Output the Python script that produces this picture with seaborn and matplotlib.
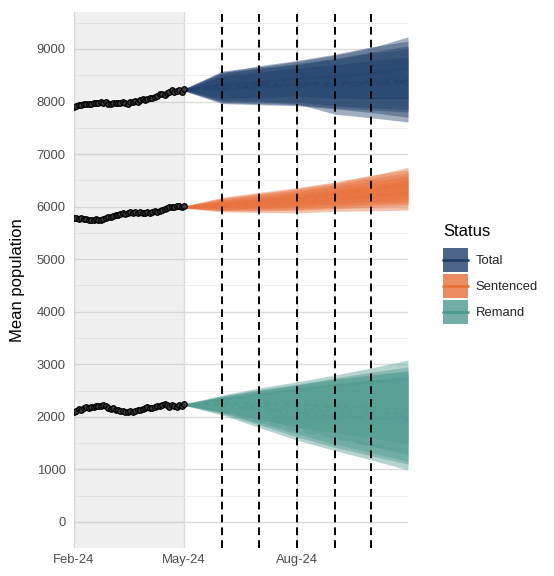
import numpy as np
import pandas as pd
import matplotlib
matplotlib.use("Agg")
import matplotlib.pyplot as plt
from matplotlib.patches import Patch, Rectangle
from matplotlib.lines import Line2D
from matplotlib.legend_handler import HandlerBase
import seaborn as sns

# ---------------- data ----------------
status_names = ["Total", "Sentenced", "Remand"]
status_colors = ["#1F3F6B", "#E8703A", "#4E9A8F"]
legend_title = "Status"

hist_start = "2024-02-01"
hist_step_days = 2

total_hist = [7890, 7910, 7930, 7925, 7945, 7950,
              7960, 7955, 7970, 7980, 7965, 7985,
              7975, 7990, 7960, 7945, 7970, 7980,
              7965, 7975, 7990, 7970, 7960, 7985,
              7995, 8010, 7990, 8020, 8040, 8030,
              8050, 8070, 8060, 8080, 8110, 8140,
              8150, 8130, 8170, 8190, 8210, 8180,
              8200, 8225, 8190, 8240]
sent_hist = [5780, 5790, 5770, 5785, 5760, 5770,
             5750, 5755, 5745, 5760, 5740, 5755,
             5770, 5790, 5800, 5810, 5830, 5840,
             5850, 5860, 5870, 5860, 5880, 5890,
             5875, 5890, 5880, 5900, 5885, 5870,
             5890, 5880, 5900, 5910, 5895, 5920,
             5930, 5950, 5980, 5990, 5985, 6000,
             6010, 6020, 6000, 6010]
remand_hist = [2100, 2120, 2150, 2140, 2170, 2180,
               2175, 2195, 2190, 2200, 2205, 2215,
               2225, 2200, 2170, 2150, 2160, 2140,
               2130, 2120, 2110, 2100, 2095, 2110,
               2100, 2115, 2130, 2140, 2150, 2170,
               2180, 2165, 2175, 2190, 2200, 2210,
               2230, 2250, 2220, 2190, 2235, 2200,
               2180, 2230, 2200, 2245]

proj_dates = ["2024-05-01", "2024-06-01", "2024-07-01", "2024-08-01",
              "2024-09-01", "2024-10-01", "2024-10-31"]

total_upper = [[8240, 8580, 8660, 8760, 8880, 9020, 9230],
               [8235, 8520, 8640, 8720, 8820, 8940, 9060],
               [8240, 8550, 8680, 8780, 8900, 9040, 9150],
               [8230, 8480, 8560, 8640, 8700, 8780, 8850],
               [8240, 8560, 8620, 8700, 8800, 8920, 9000]]
total_lower = [[8210, 8060, 8080, 8100, 8060, 8050, 8050],
               [8200, 7960, 7940, 7920, 7860, 7790, 7700],
               [8210, 8000, 7990, 7960, 7760, 7690, 7610],
               [8205, 7980, 7960, 7940, 7880, 7840, 7800],
               [8210, 8020, 8010, 7990, 7920, 7880, 7850]]
total_mid = [[8225, 8320, 8370, 8430, 8470, 8530, 8640],
             [8220, 8240, 8290, 8320, 8340, 8360, 8380],
             [8225, 8280, 8330, 8370, 8330, 8370, 8380],
             [8220, 8230, 8260, 8290, 8290, 8310, 8320],
             [8225, 8290, 8320, 8340, 8360, 8400, 8420]]

sent_upper = [[6010, 6160, 6250, 6340, 6450, 6580, 6750],
              [6005, 6120, 6200, 6280, 6380, 6480, 6580],
              [6010, 6180, 6270, 6360, 6470, 6600, 6700],
              [6000, 6100, 6170, 6240, 6320, 6420, 6500],
              [6010, 6150, 6230, 6310, 6420, 6540, 6640]]
sent_lower = [[5975, 5940, 5960, 5990, 6020, 6060, 6100],
              [5970, 5900, 5890, 5880, 5910, 5920, 5935],
              [5980, 5950, 5980, 6010, 6060, 6100, 6150],
              [5970, 5920, 5920, 5930, 5960, 5990, 6020],
              [5975, 5930, 5940, 5950, 5990, 6030, 6060]]
sent_mid = [[5990, 6050, 6100, 6160, 6230, 6320, 6420],
            [5985, 6010, 6040, 6080, 6140, 6200, 6260],
            [5995, 6060, 6120, 6180, 6260, 6350, 6420],
            [5985, 6010, 6040, 6080, 6140, 6200, 6260],
            [5990, 6040, 6080, 6130, 6200, 6280, 6350]]

remand_upper = [[2240, 2415, 2550, 2665, 2795, 2930, 3080],
                [2235, 2380, 2490, 2600, 2700, 2790, 2860],
                [2240, 2400, 2520, 2620, 2740, 2850, 2950],
                [2235, 2360, 2450, 2540, 2620, 2700, 2780],
                [2240, 2390, 2500, 2610, 2720, 2800, 2880]]
remand_lower = [[2220, 2100, 1950, 1800, 1700, 1600, 1500],
                [2220, 2035, 1800, 1560, 1360, 1180, 990],
                [2225, 2080, 1880, 1680, 1480, 1320, 1150],
                [2220, 2060, 1850, 1620, 1420, 1260, 1100],
                [2225, 2110, 1960, 1800, 1620, 1450, 1275]]
remand_mid = [[2235, 2330, 2420, 2520, 2600, 2660, 2720],
              [2230, 2100, 1920, 1750, 1600, 1460, 1340],
              [2232, 2240, 2200, 2150, 2110, 2080, 2050],
              [2230, 2210, 2150, 2080, 2020, 1980, 1940],
              [2233, 2260, 2260, 2240, 2200, 2170, 2150]]

sim_linestyles = ["-", (0, (5, 2)), (0, (1, 2)), (0, (6, 2, 1, 2)), (0, (2, 2))]

dashed_dates = ["2024-06-01", "2024-07-01", "2024-08-01", "2024-09-01", "2024-10-01"]
x_ticks = ["2024-02-01", "2024-05-01", "2024-08-01"]
x_tick_labels = ["Feb-24", "May-24", "Aug-24"]
x_limits = ["2024-02-01", "2024-10-31"]
y_ticks = [0, 1000, 2000, 3000, 4000, 5000, 6000, 7000, 8000, 9000]
y_limits = [-495, 9703]
shade_range = ["2024-02-01", "2024-05-01"]


class KeyHandler(HandlerBase):
    """Filled square key with a line through its middle (ggplot-like)."""
    def __init__(self, color):
        super().__init__()
        self.color = color

    def create_artists(self, legend, orig_handle, xdescent, ydescent,
                       width, height, fontsize, trans):
        y0 = -ydescent
        rect = Rectangle((-xdescent, y0), width, height, facecolor=self.color,
                         alpha=0.8, edgecolor="none", transform=trans)
        ym = y0 + height / 2
        line = Line2D([-xdescent, -xdescent + width], [ym, ym], color=self.color,
                      lw=2, transform=trans)
        return [rect, line]


# ---------------- plotting ----------------
sns.set_theme(style="white")
plt.rcParams["font.family"] = ["Liberation Sans", "DejaVu Sans"]

fig = plt.figure(figsize=(5.54, 5.76), dpi=100)
ax = fig.add_axes([74 / 554, 28 / 576, 334 / 554, 536 / 576])

pdates = pd.to_datetime(proj_dates)
hist_dates = pd.date_range(hist_start, periods=len(total_hist), freq=f"{hist_step_days}D")

uppers = [total_upper, sent_upper, remand_upper]
lowers = [total_lower, sent_lower, remand_lower]
mids = [total_mid, sent_mid, remand_mid]

for name, col, ups, los, mds in zip(status_names, status_colors, uppers, lowers, mids):
    for u, l in zip(ups, los):
        ax.fill_between(pdates, l, u, color=col, alpha=0.42, linewidth=0, zorder=2)
    for k, m in enumerate(mds):
        sns.lineplot(x=pdates, y=m, ax=ax, color=col, alpha=0.35, lw=1.8,
                     linestyle=sim_linestyles[k], zorder=3, legend=False)

hist_df = pd.concat([
    pd.DataFrame({"date": hist_dates, "value": v, "status": s})
    for s, v in zip(status_names, [total_hist, sent_hist, remand_hist])
])
sns.scatterplot(data=hist_df, x="date", y="value", ax=ax, color="#3C3C3C",
                edgecolor="black", linewidth=0.9, s=16, zorder=4, legend=False)

for d in dashed_dates:
    ax.axvline(pd.Timestamp(d), color="black", lw=1.4, ls=(0, (4, 2.6)), zorder=5)

ax.axvspan(pd.Timestamp(shade_range[0]), pd.Timestamp(shade_range[1]),
           color="#BDBDBD", alpha=0.22, lw=0, zorder=1)

ax.set_xlim(pd.Timestamp(x_limits[0]), pd.Timestamp(x_limits[1]))
ax.set_ylim(*y_limits)
ax.set_xticks(pd.to_datetime(x_ticks))
ax.set_xticklabels(x_tick_labels)
ax.set_yticks(y_ticks)
ax.set_yticks([v + 500 for v in y_ticks], minor=True)

ax.set_axisbelow(True)
ax.grid(which="major", axis="both", color="#DCDCDC", lw=1.0)
ax.grid(which="minor", axis="y", color="#EBEBEB", lw=0.6)
for sp in ax.spines.values():
    sp.set_visible(False)
ax.tick_params(axis="both", which="both", length=0, labelsize=9.4, labelcolor="#4D4D4D")
ax.tick_params(axis="y", pad=6)
ax.tick_params(axis="x", pad=4)
ax.set_xlabel("")
ax.set_ylabel("")
fig.text(18 / 554, 1 - 280 / 576, "Mean population", rotation=90,
         ha="center", va="center", fontsize=12, color="black")

fig.text(443 / 554, 1 - 232 / 576, legend_title, ha="left", va="center",
         fontsize=12, color="black")
handles = [Patch(facecolor=c) for c in status_colors]
hmap = {h: KeyHandler(c) for h, c in zip(handles, status_colors)}
leg = fig.legend(handles, status_names, handler_map=hmap,
                 loc="upper left", bbox_to_anchor=(443 / 554, 1 - 248 / 576),
                 frameon=False, fontsize=9.4,
                 handlelength=1.92, handleheight=2.45, labelspacing=0.15,
                 handletextpad=0.6, borderaxespad=0, borderpad=0)

fig.savefig("out.png", dpi=100)
